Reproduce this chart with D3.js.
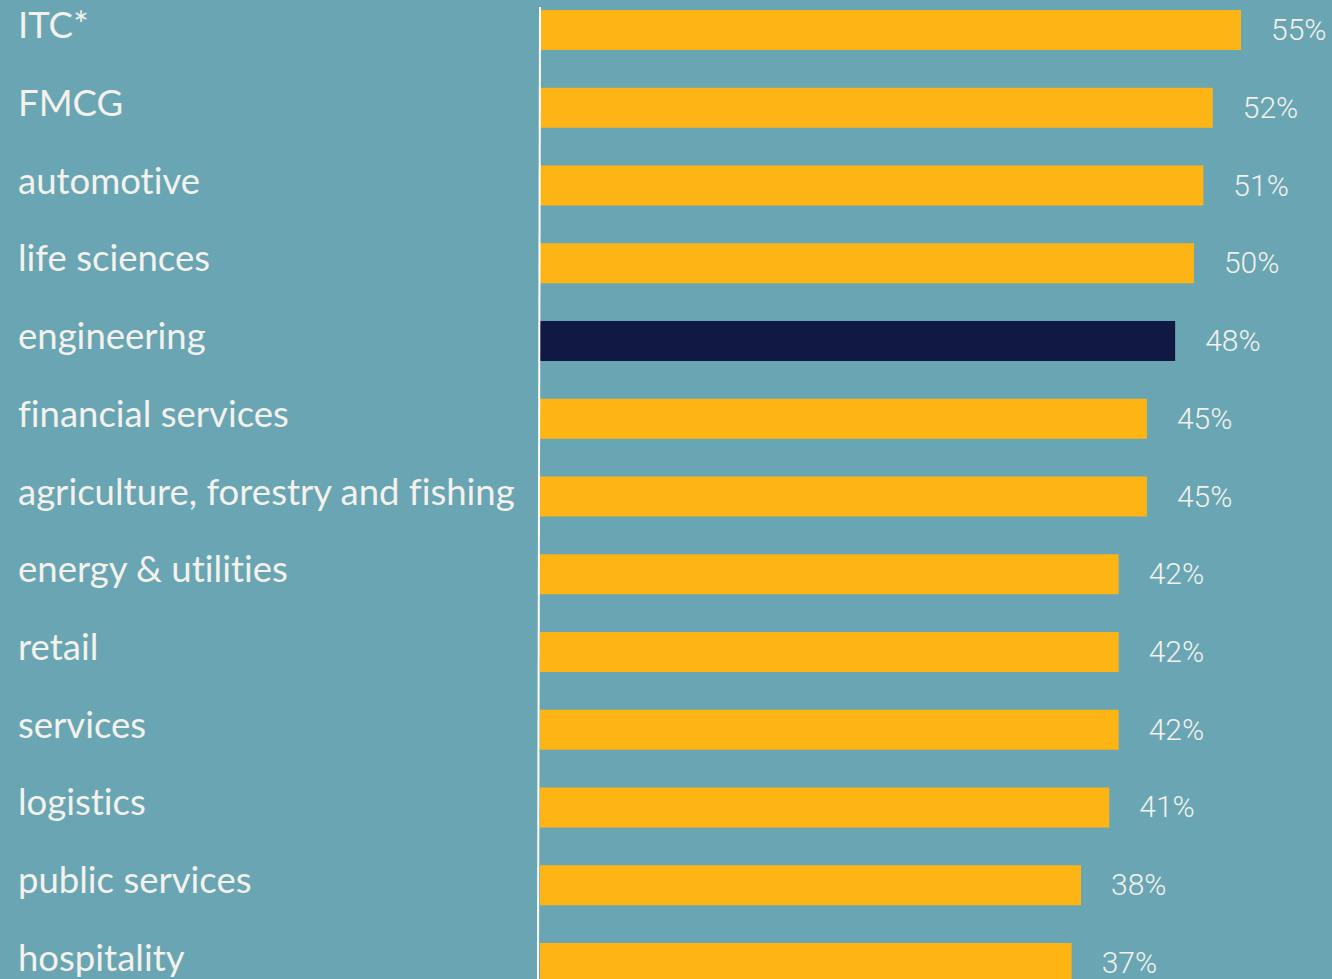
<!DOCTYPE html>
<html>
<head>
<meta charset="utf-8">
<script src="https://cdn.jsdelivr.net/npm/d3@7"></script>
<style>
  html, body { margin: 0; padding: 0; background: #6aa5b3; }
  svg { display: block; }
  text { font-variant-ligatures: none; font-feature-settings: "liga" 0, "clig" 0; }
</style>
</head>
<body>
<svg id="chart" width="1332" height="979"></svg>
<script>
const categories = ["ITC*", "FMCG", "automotive", "life sciences", "engineering", "financial services",
  "agriculture, forestry and fishing", "energy & utilities", "retail", "services", "logistics",
  "public services", "hospitality"];
const values = [55, 52, 51, 50, 48, 45, 45, 42, 42, 42, 41, 38, 37];
const highlighted = ["engineering"];

const W = 1332, H = 979;
const svg = d3.select("#chart");
svg.append("rect").attr("width", W).attr("height", H).attr("fill", "#6aa5b3");

const x0 = 540;
const x = d3.scaleLinear().domain([-19.5, 55]).range([x0, x0 + 701]);
const y = d3.scaleBand().domain(categories).range([10, 983]).paddingInner(0.4855).paddingOuter(0);

const data = categories.map((c, i) => ({ c, v: values[i] }));

svg.selectAll("rect.bar").data(data).join("rect")
  .attr("class", "bar")
  .attr("x", x0)
  .attr("y", d => y(d.c))
  .attr("width", d => x(d.v) - x0)
  .attr("height", y.bandwidth())
  .attr("fill", d => highlighted.includes(d.c) ? "#111843" : "#fdb515");

svg.append("line")
  .attr("x1", 540).attr("x2", 538)
  .attr("y1", 7).attr("y2", H)
  .attr("stroke", "#ffffff").attr("stroke-width", 2);

svg.selectAll("text.cat").data(data).join("text")
  .attr("class", "cat")
  .attr("x", 18)
  .attr("y", d => y(d.c) + y.bandwidth() / 2 + 8)
  .attr("fill", "#f3f2ec")
  .style("font-family", "Lato, 'Open Sans', sans-serif")
  .style("font-weight", 400)
  .style("font-size", "36.5px")
  .text(d => d.c);

svg.selectAll("text.val").data(data).join("text")
  .attr("class", "val")
  .attr("x", d => x(d.v) + 30)
  .attr("y", d => y(d.c) + y.bandwidth() / 2 + 10)
  .attr("fill", "#f3f2ec")
  .style("font-family", "Roboto, 'Liberation Sans', sans-serif")
  .style("font-weight", 300)
  .style("font-size", "30px")
  .text(d => d.v + "%");
</script>
</body>
</html>
